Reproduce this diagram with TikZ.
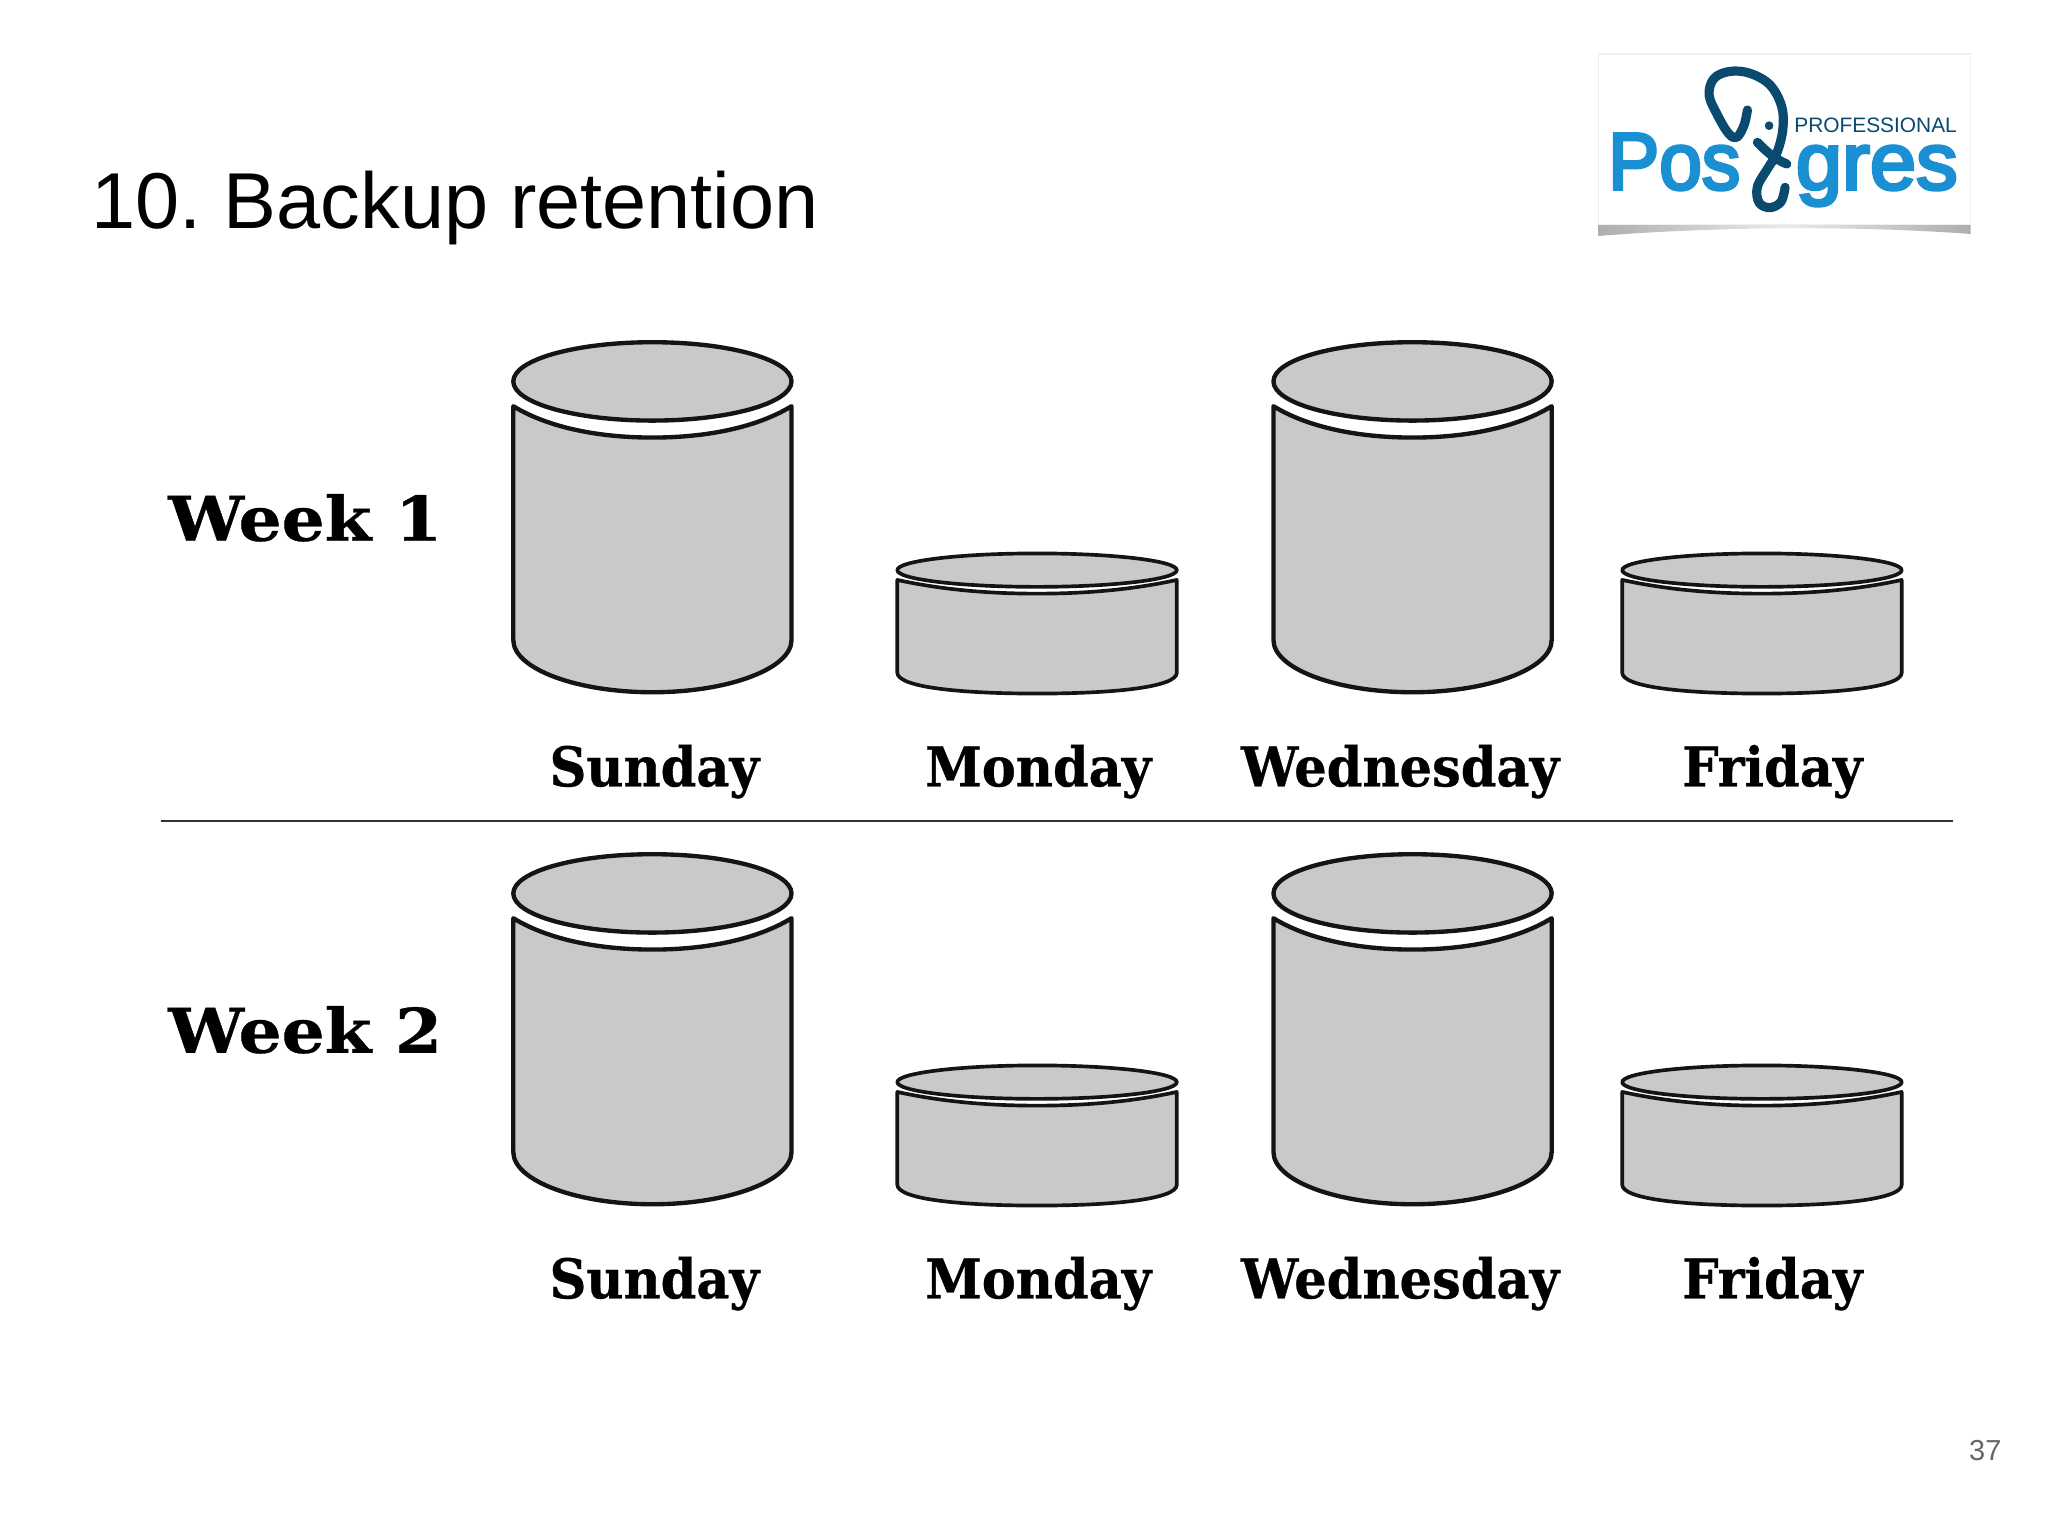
\documentclass[tikz,border=0pt]{standalone}
\usepackage{fontspec}
\setmainfont{Liberation Sans}
\newfontfamily\labfont[BoldFeatures={FakeBold=0.6}]{DejaVu Serif}
\newfontfamily\logofont[FakeBold=4]{Liberation Sans}
\definecolor{drumgray}{HTML}{C9C9C9}
\definecolor{logoblue}{HTML}{1A8FD1}
\definecolor{logodark}{HTML}{0B4A6F}
\tikzset{
  drum/.style={draw=black!92,fill=drumgray,line width=0.95pt,line join=round},
  smalldrum/.style={drum,line width=0.8pt},
  daylabel/.style={anchor=base,inner sep=0pt,font=\labfont\bfseries\fontsize{11.9pt}{14pt}\selectfont,text=black},
  weeklabel/.style={anchor=base west,inner sep=0pt,font=\labfont\bfseries\fontsize{13.4pt}{16pt}\selectfont,text=black},
  elephant/.style={draw=logodark,line width=2pt,line cap=round,line join=round},
}
\newcommand{\DayText}[1]{\scalebox{.935}[1]{#1}}
\newcommand{\WeekText}[1]{\scalebox{1.1}[1]{#1}}
\newcommand{\BigDrum}[2]{%
  \begin{scope}[shift={(#1,#2)}]
    \path[drum] (-106.5,311) -- (-106.5,490) .. controls (-106.5,512) and (-58,530) .. (0,530)
      .. controls (58,530) and (106.5,512) .. (106.5,490) -- (106.5,311)
      .. controls (82,326) and (45,335) .. (0,335) .. controls (-45,335) and (-82,326) .. (-106.5,311) -- cycle;
    \path[drum] (0,292) ellipse[x radius=106.5,y radius=30];
  \end{scope}}
\newcommand{\SmallDrum}[2]{%
  \begin{scope}[shift={(#1,#2)}]
    \path[smalldrum] (-107,444) -- (-107,515) .. controls (-107,526) and (-60,531) .. (0,531)
      .. controls (60,531) and (107,526) .. (107,515) -- (107,444)
      .. controls (75,451) and (40,454.5) .. (0,454.5) .. controls (-40,454.5) and (-75,451) .. (-107,444) -- cycle;
    \path[smalldrum] (0,436.5) ellipse[x radius=107,y radius=12.8];
  \end{scope}}
\begin{document}
\frenchspacing
\begin{tikzpicture}[x=0.1mm,y=-0.1mm]
\useasboundingbox (0,0) rectangle (1568,1176);
\fill[white] (0,0) rectangle (1568,1176);

\node[anchor=base west,inner sep=0pt,font=\fontsize{17.27pt}{20pt}\selectfont,text=black] (title) at (69.5,175) {10. Backup retention};

% logo
\begin{scope}[shift={(1194.5,23)},x=0.02552mm,y=-0.02552mm]
  \shade[left color=black!32,right color=black!32,middle color=black!8]
    (115,583) -- (1232,583) -- (1232,612) .. controls (900,588) and (500,588) .. (115,618) -- cycle;
  \path[fill=white,draw=black!6,line width=0.3pt] (115,72) rectangle (1232,583);
  \node[anchor=base west,inner sep=0pt,text=logoblue,font=\logofont\fontsize{17.6pt}{20pt}\selectfont] (pos) at (141,478) {\scalebox{.95}[1]{Pos}};
  \node[anchor=base east,inner sep=0pt,text=logoblue,font=\logofont\fontsize{17.6pt}{20pt}\selectfont] (gres) at (1196,478) {\scalebox{1.03}[1]{gres}};
  \node[anchor=base west,inner sep=0pt,text=logodark,font=\fontsize{4.55pt}{6pt}\selectfont] (prof) at (700,308) {PROFESSIONAL};
  \path[elephant] plot[smooth,tension=.6] coordinates {(562,240) (552,285) (530,322) (505,310) (472,255) (447,195) (462,145) (510,124) (570,130) (630,165) (665,230) (668,300) (650,370) (625,412) (592,470) (597,518) (630,533) (663,515) (675,472)};
  \path[elephant] (592,337) .. controls (620,365) and (640,385) .. (680,402);
  \fill[logodark] (627,287) circle[radius=13];
\end{scope}

% week 1
\BigDrum{499.5}{0}
\SmallDrum{794}{0}
\BigDrum{1081.5}{0}
\SmallDrum{1349}{0}
\node[weeklabel] (week1) at (128,414) {\WeekText{Week 1}};
\node[daylabel] (sun1) at (501,602) {\DayText{Sunday}};
\node[daylabel] (mon1) at (795,602) {\DayText{Monday}};
\node[daylabel] (wed1) at (1072,602) {\DayText{Wednesday}};
\node[daylabel] (fri1) at (1357,602) {\DayText{Friday}};

\coordinate (ruleL) at (123,628.5);
\coordinate (ruleR) at (1495,628.5);
\draw[black!80,line width=0.45pt] (ruleL) -- (ruleR);

% week 2
\BigDrum{499.5}{392}
\SmallDrum{794}{392}
\BigDrum{1081.5}{392}
\SmallDrum{1349}{392}
\node[weeklabel] (week2) at (128,806) {\WeekText{Week 2}};
\node[daylabel] (sun2) at (501,994) {\DayText{Sunday}};
\node[daylabel] (mon2) at (795,994) {\DayText{Monday}};
\node[daylabel] (wed2) at (1072,994) {\DayText{Wednesday}};
\node[daylabel] (fri2) at (1357,994) {\DayText{Friday}};

\node[anchor=base east,inner sep=0pt,text=black!60,font=\fontsize{6.3pt}{8pt}\selectfont] (page) at (1533,1118.5) {37};
\end{tikzpicture}
\end{document}
